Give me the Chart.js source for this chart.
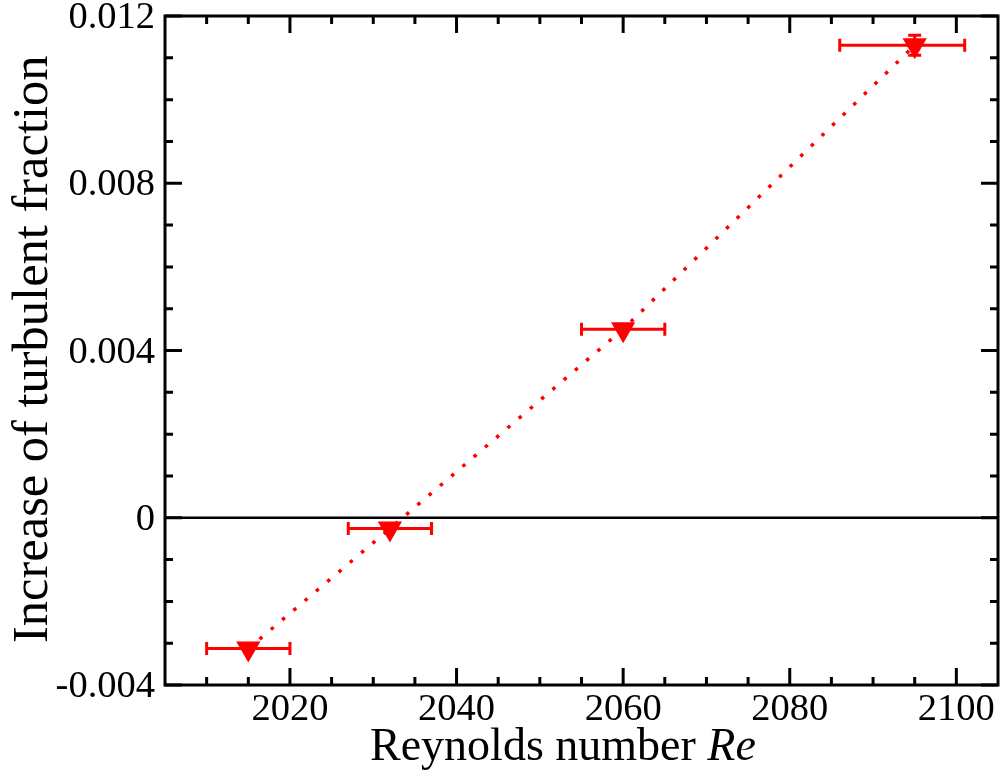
<!DOCTYPE html>
<html>
<head>
<meta charset="utf-8">
<script src="https://cdn.jsdelivr.net/npm/chart.js@4"></script>
<style>
  html, body { margin: 0; padding: 0; background: #fff; overflow: hidden; }
  #wrap { width: 1002px; height: 778px; }
  canvas { display: block; }
</style>
</head>
<body>
<div id="wrap"><canvas id="reChart"></canvas></div>
<script>
    // data
    let reynolds = [2015, 2032, 2060, 2095];
    let increase = [-0.00313, -0.00026, 0.00451, 0.0113];
    let reLow = [2010, 2027, 2055, 2086];
    let reHigh = [2020, 2037, 2065, 2101];
    let incErr = [0, 0, 0, 0.00024];

    let xMajor = [2020, 2040, 2060, 2080, 2100];
    let xMinor = [2010, 2015, 2025, 2030, 2035, 2045, 2050, 2055, 2065, 2070, 2075, 2085, 2090, 2095];
    let yMajor = [-0.004, 0, 0.004, 0.008, 0.012];
    let yLabels = ["-0.004", "0", "0.004", "0.008", "0.012"];
    let yMinor = [-0.003, -0.002, -0.001, 0.001, 0.002, 0.003, 0.005, 0.006, 0.007, 0.009, 0.01, 0.011];

    let serif = "'Liberation Serif', 'Times New Roman', serif";
    let red = "#ff0000";

    let framePlugin = {
        id: "frame",
        beforeDatasetsDraw(chart) {
            let { ctx, chartArea: a, scales: { x, y } } = chart;
            ctx.save();
            // zero line
            ctx.strokeStyle = "#000";
            ctx.lineWidth = 2.5;
            ctx.beginPath();
            ctx.moveTo(a.left, y.getPixelForValue(0));
            ctx.lineTo(a.right, y.getPixelForValue(0));
            ctx.stroke();

            // error bars
            ctx.strokeStyle = red;
            ctx.lineWidth = 3;
            reynolds.forEach((re, i) => {
                let py = y.getPixelForValue(increase[i]);
                let px = x.getPixelForValue(re);
                let x0 = x.getPixelForValue(reLow[i]);
                let x1 = x.getPixelForValue(reHigh[i]);
                ctx.beginPath();
                ctx.moveTo(x0, py); ctx.lineTo(x1, py);
                ctx.moveTo(x0, py - 6.5); ctx.lineTo(x0, py + 6.5);
                ctx.moveTo(x1, py - 6.5); ctx.lineTo(x1, py + 6.5);
                ctx.stroke();
                if (incErr[i] > 0) {
                    let y0 = y.getPixelForValue(increase[i] - incErr[i]);
                    let y1 = y.getPixelForValue(increase[i] + incErr[i]);
                    ctx.beginPath();
                    ctx.moveTo(px, y0); ctx.lineTo(px, y1);
                    ctx.moveTo(px - 6.5, y0); ctx.lineTo(px + 6.5, y0);
                    ctx.moveTo(px - 6.5, y1); ctx.lineTo(px + 6.5, y1);
                    ctx.stroke();
                }
            });
            ctx.restore();
        },
        afterDraw(chart) {
            let { ctx, chartArea: a, scales: { x, y } } = chart;
            ctx.save();
            ctx.strokeStyle = "#000";
            ctx.lineWidth = 3;
            ctx.strokeRect(a.left, a.top, a.right - a.left, a.bottom - a.top);

            let tick = (vals, len) => {
                vals.forEach(v => {
                    let px = x.getPixelForValue(v);
                    ctx.moveTo(px, a.bottom); ctx.lineTo(px, a.bottom - len);
                    ctx.moveTo(px, a.top); ctx.lineTo(px, a.top + len);
                });
            };
            let ytick = (vals, len) => {
                vals.forEach(v => {
                    let py = y.getPixelForValue(v);
                    ctx.moveTo(a.left, py); ctx.lineTo(a.left + len, py);
                    ctx.moveTo(a.right, py); ctx.lineTo(a.right - len, py);
                });
            };
            ctx.beginPath();
            tick(xMajor, 17);
            tick(xMinor, 8);
            ytick(yMajor, 17);
            ytick(yMinor, 8);
            ctx.stroke();

            // tick labels
            ctx.fillStyle = "#000";
            ctx.textBaseline = "alphabetic";
            ctx.font = "38.5px " + serif;
            ctx.textAlign = "center";
            xMajor.forEach(v => ctx.fillText(String(v), x.getPixelForValue(v), a.bottom + 35));
            ctx.textAlign = "right";
            yMajor.forEach((v, i) => ctx.fillText(yLabels[i], a.left - 10, y.getPixelForValue(v) + 12));

            // axis titles
            ctx.textAlign = "left";
            ctx.font = "46px " + serif;
            let t1 = "Reynolds number ";
            ctx.fillText(t1, 370, 760);
            let w1 = ctx.measureText(t1).width;
            ctx.font = "italic 46px " + serif;
            ctx.fillText("Re", 370 + w1, 760);

            ctx.translate(47, 643);
            ctx.rotate(-Math.PI / 2);
            ctx.font = "50.5px " + serif;
            ctx.fillText("Increase of turbulent fraction", 0, 0);
            ctx.restore();
        }
    };

    new Chart(document.getElementById("reChart"), {
        type: "line",
        data: {
            datasets: [{
                label: "Increase of turbulent fraction",
                data: reynolds.map((re, i) => ({ x: re, y: increase[i] })),
                borderColor: red,
                backgroundColor: red,
                borderWidth: 3.5,
                borderDash: [3.5, 11.3],
                pointStyle: "triangle",
                rotation: 180,
                pointRadius: 14,
                pointBorderWidth: 0,
                pointBackgroundColor: red,
                fill: false,
                tension: 0
            }]
        },
        plugins: [framePlugin],
        options: {
            responsive: true,
            maintainAspectRatio: false,
            animation: false,
            layout: { autoPadding: false, padding: { left: 0, top: 16, right: 4, bottom: 0 } },
            plugins: { legend: { display: false }, tooltip: { enabled: false } },
            scales: {
                x: {
                    type: "linear",
                    min: 2005,
                    max: 2105,
                    grid: { display: false, drawTicks: false },
                    border: { display: false },
                    afterBuildTicks: s => { s.ticks = xMajor.map(v => ({ value: v })); },
                    afterFit: s => { s.height = 93; },
                    ticks: { display: false }
                },
                y: {
                    type: "linear",
                    min: -0.004,
                    max: 0.012,
                    grid: { display: false, drawTicks: false },
                    border: { display: false },
                    afterBuildTicks: s => { s.ticks = yMajor.map(v => ({ value: v })); },
                    afterFit: s => { s.width = 165; },
                    ticks: { display: false }
                }
            }
        }
    });
</script>
</body>
</html>
